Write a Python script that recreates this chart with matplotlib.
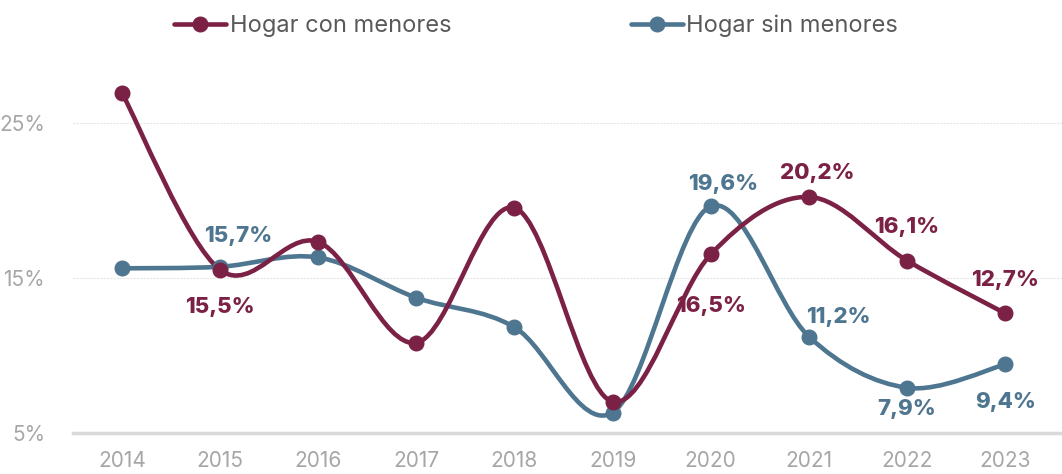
import matplotlib
matplotlib.use("Agg")
import matplotlib.pyplot as plt
from matplotlib.path import Path
from matplotlib.patches import PathPatch
from matplotlib.lines import Line2D
import numpy as np

years = ["2014", "2015", "2016", "2017", "2018", "2019", "2020", "2021", "2022", "2023"]
con_menores = [26.9, 15.5, 17.3, 10.8, 19.5, 7.0, 16.5, 20.2, 16.1, 12.7]
sin_menores = [15.6, 15.7, 16.3, 13.7, 11.8, 6.3, 19.6, 11.2, 7.9, 9.4]

# which points get a label, and where (offset in points)
con_labels = {1: (0, -27), 6: (0, -37), 7: (6, 17), 8: (0, 24), 9: (0, 24)}
sin_labels = {1: (13, 22), 6: (9, 16), 7: (21, 14), 8: (0, -15), 9: (0, -27)}

RED = "#7B2145"
BLUE = "#4E7690"
GRAY = "#A6A6A6"

plt.rcParams['font.family'] = ['Inter', 'DejaVu Sans']


def smooth_path(xs, ys):
    # cardinal (catmull-rom) spline drawn as cubic bezier segments
    pts = np.column_stack([xs, ys]).astype(float)
    n = len(pts)
    verts = [pts[0]]
    codes = [Path.MOVETO]
    for i in range(n - 1):
        p0 = pts[i - 1] if i > 0 else pts[i]
        p1 = pts[i]
        p2 = pts[i + 1]
        p3 = pts[i + 2] if i + 2 < n else pts[i + 1]
        c1 = p1 + (p2 - p0) / 6.0
        c2 = p2 - (p3 - p1) / 6.0
        verts += [c1, c2, p2]
        codes += [Path.CURVE4] * 3
    return Path(verts, codes)


fig = plt.figure(figsize=(10.62, 4.74), dpi=100)
ax = fig.add_axes([0.0687, 0.0871, 0.9313, 0.818])

x = np.arange(len(years))
for vals, col in [(sin_menores, BLUE), (con_menores, RED)]:
    ax.add_patch(PathPatch(smooth_path(x, vals), facecolor="none", edgecolor=col,
                           lw=3.3, capstyle="round", zorder=3))
    ax.plot(x, vals, "o", color=col, ms=10.5, zorder=4)

for i, (dx, dy) in con_labels.items():
    ax.annotate(f"{con_menores[i]:.1f}%".replace(".", ","), (x[i], con_menores[i]),
                xytext=(dx, dy), textcoords="offset points", ha="center", va="center",
                fontsize=16, fontweight="heavy", color=RED, zorder=5)
for i, (dx, dy) in sin_labels.items():
    ax.annotate(f"{sin_menores[i]:.1f}%".replace(".", ","), (x[i], sin_menores[i]),
                xytext=(dx, dy), textcoords="offset points", ha="center", va="center",
                fontsize=16, fontweight="heavy", color=BLUE, zorder=5)

ax.set_xlim(-0.5, 9.58)
ax.set_ylim(5, 30)
ax.set_xticks(x)
ax.set_xticklabels(years)
ax.set_yticks([5, 15, 25])
ax.set_yticklabels(["5%", "15%", "25%"])
ax.tick_params(axis="both", length=0, colors=GRAY, labelsize=15)
ax.tick_params(axis="x", pad=13)
ax.tick_params(axis="y", pad=20)
for s in ["top", "right", "left"]:
    ax.spines[s].set_visible(False)
ax.spines["bottom"].set_color("#D9D9D9")
ax.spines["bottom"].set_linewidth(2.5)
ax.grid(axis="y", color="#E6E6E6", lw=0.8, ls=(0, (2, 1)))
ax.set_axisbelow(True)

handles = [Line2D([], [], color=RED, lw=3.3, marker="o", ms=10.5, solid_capstyle="round"),
           Line2D([], [], color=BLUE, lw=3.3, marker="o", ms=10.5, solid_capstyle="round")]
leg = fig.legend(handles, ["Hogar con menores", "Hogar sin menores"], loc="upper center",
                 bbox_to_anchor=(0.505, 1.014), ncol=2, frameon=False, fontsize=17,
                 handlelength=2.2, handletextpad=0.15, columnspacing=7.6)
for t in leg.get_texts():
    t.set_color("#595959")

fig.savefig("out.png", dpi=100)
